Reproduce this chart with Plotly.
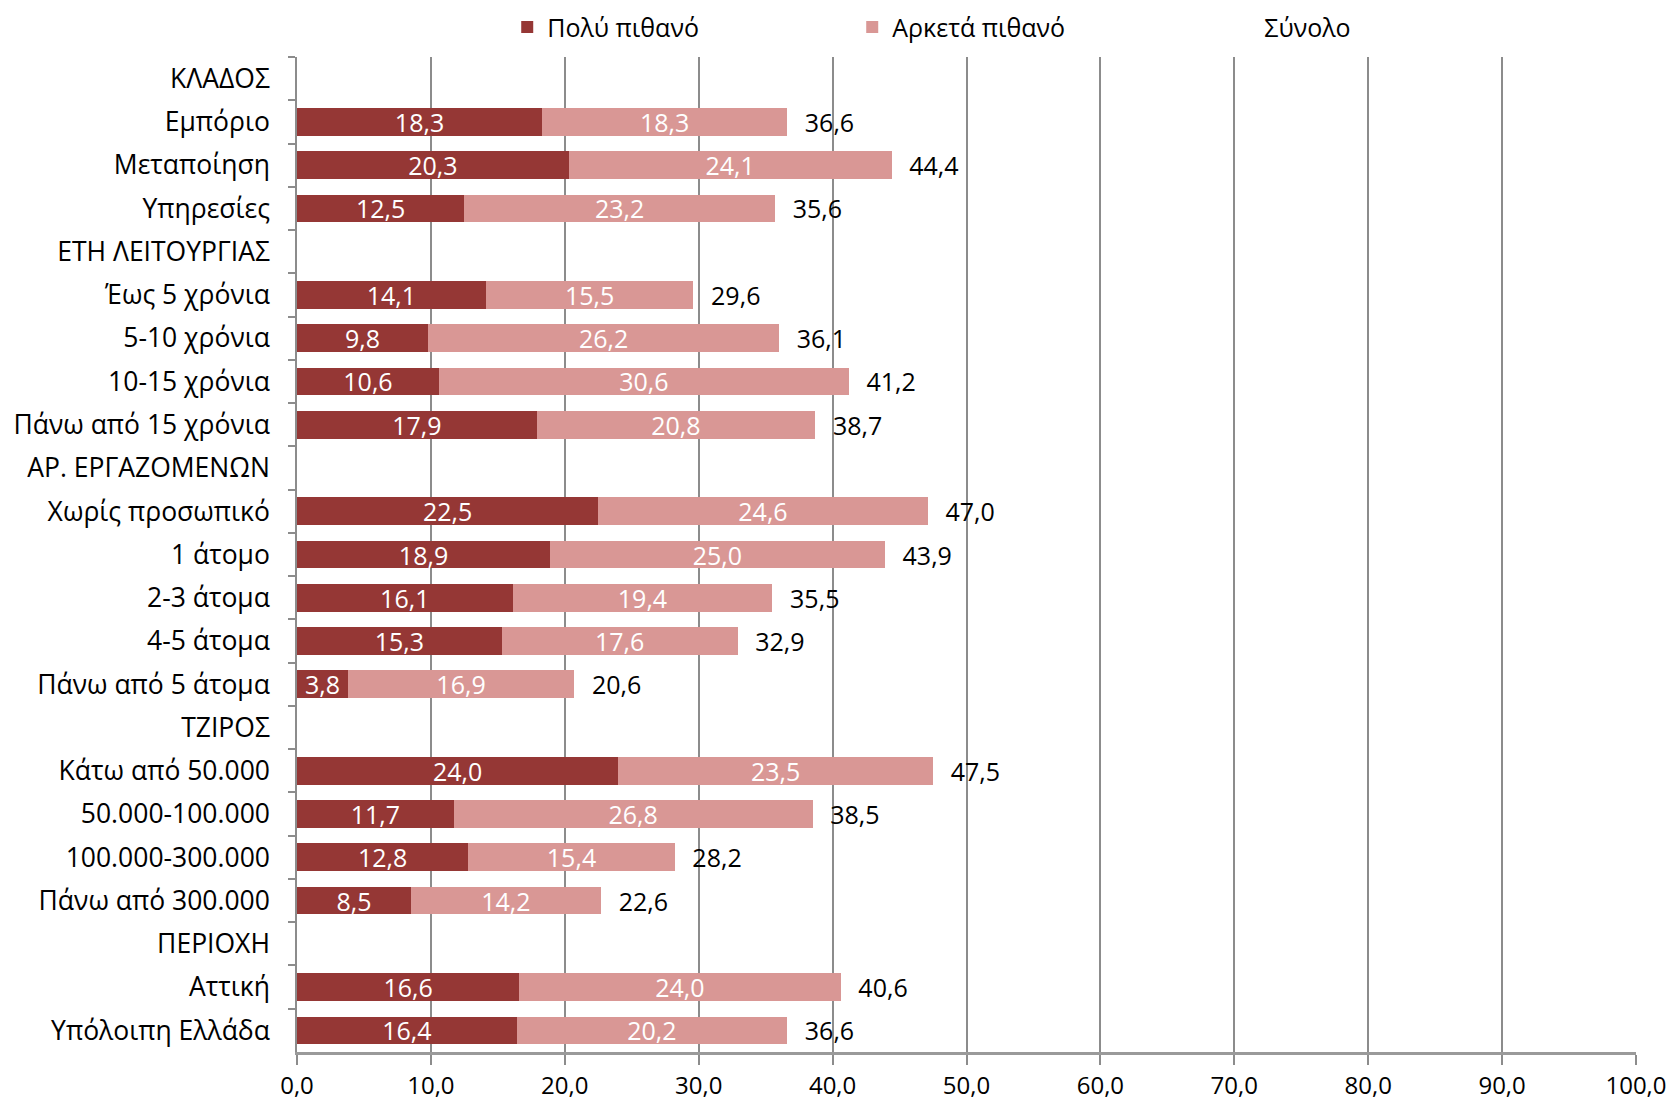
import plotly.graph_objects as go

# Categories top to bottom (header rows carry no data)
categories = [
    "ΚΛΑΔΟΣ", "Εμπόριο", "Μεταποίηση", "Υπηρεσίες",
    "ΕΤΗ ΛΕΙΤΟΥΡΓΙΑΣ", "Έως 5 χρόνια", "5-10 χρόνια", "10-15 χρόνια", "Πάνω από 15 χρόνια",
    "ΑΡ. ΕΡΓΑΖΟΜΕΝΩΝ", "Χωρίς προσωπικό", "1 άτομο", "2-3 άτομα", "4-5 άτομα", "Πάνω από 5 άτομα",
    "ΤΖΙΡΟΣ", "Κάτω από 50.000", "50.000-100.000", "100.000-300.000", "Πάνω από 300.000",
    "ΠΕΡΙΟΧΗ", "Αττική", "Υπόλοιπη Ελλάδα",
]
poly_pithano = [None, 18.3, 20.3, 12.5,
                None, 14.1, 9.8, 10.6, 17.9,
                None, 22.5, 18.9, 16.1, 15.3, 3.8,
                None, 24.0, 11.7, 12.8, 8.5,
                None, 16.6, 16.4]
arketa_pithano = [None, 18.3, 24.1, 23.2,
                  None, 15.5, 26.2, 30.6, 20.8,
                  None, 24.6, 25.0, 19.4, 17.6, 16.9,
                  None, 23.5, 26.8, 15.4, 14.2,
                  None, 24.0, 20.2]
synolo = [None, 36.6, 44.4, 35.6,
          None, 29.6, 36.1, 41.2, 38.7,
          None, 47.0, 43.9, 35.5, 32.9, 20.6,
          None, 47.5, 38.5, 28.2, 22.6,
          None, 40.6, 36.6]
x_ticks = [0, 10, 20, 30, 40, 50, 60, 70, 80, 90, 100]

FONT = "Open Sans"
DARK = "#953735"
LIGHT = "#d99795"

fig = go.Figure()
fig.add_bar(
    y=categories, x=poly_pithano, orientation="h", name="Πολύ πιθανό",
    marker=dict(color=DARK, line=dict(width=0)),
    texttemplate="%{x:.1f}", textposition="inside", insidetextanchor="middle",
    constraintext="none", legendwidth=300,
    textfont=dict(color="white", size=25, family=FONT),
)
fig.add_bar(
    y=categories, x=arketa_pithano, orientation="h", name="Αρκετά πιθανό",
    marker=dict(color=LIGHT, line=dict(width=0)),
    texttemplate="%{x:.1f}", textposition="inside", insidetextanchor="middle",
    constraintext="none", legendwidth=327,
    textfont=dict(color="white", size=25, family=FONT),
)
# invisible stacked segment that carries the total labels
fig.add_bar(
    y=categories, x=[1.1 if v is not None else None for v in synolo], orientation="h", name="Σύνολο",
    marker=dict(color="rgba(0,0,0,0)", line=dict(width=0)),
    text=[f"{v:.1f}".replace(".", ",") if v is not None else "" for v in synolo],
    textposition="outside", cliponaxis=False, constraintext="none",
    textfont=dict(color="black", size=25, family=FONT),
)

# page body adds an 8px margin, so the figure is 8px smaller than the window
fig.update_layout(
    barmode="stack",
    bargap=0.36,
    width=1666, height=1097,
    paper_bgcolor="white", plot_bgcolor="white",
    separators=",.",
    font=dict(family=FONT, size=25, color="black"),
    margin=dict(l=289, r=38, t=49, b=53, autoexpand=False),
    legend=dict(
        orientation="h", x=0.157, xanchor="left", y=1.03, yanchor="middle",
        font=dict(size=25, family=FONT), traceorder="normal",
        itemclick=False,
    ),
    showlegend=True,
)
fig.update_xaxes(
    range=[0, 100], tickvals=x_ticks, tickformat=".1f",
    showgrid=True, gridcolor="#8c8c8c", gridwidth=1.5,
    showline=True, linecolor="#9a9a9a", linewidth=2.5,
    ticks="outside", ticklen=10, tickcolor="#8c8c8c", tickwidth=1.5,
    zeroline=False, tickfont=dict(size=24, family=FONT),
)
fig.update_yaxes(
    categoryorder="array", categoryarray=categories, autorange="reversed",
    showline=True, linecolor="#8c8c8c", linewidth=1.5,
    ticks="outside", ticklen=7, tickcolor="#8c8c8c", tickwidth=1.5,
    tickson="boundaries", showgrid=False, ticklabelstandoff=20,
    tickfont=dict(size=26.5, family=FONT),
)

fig.write_html("out.html")
